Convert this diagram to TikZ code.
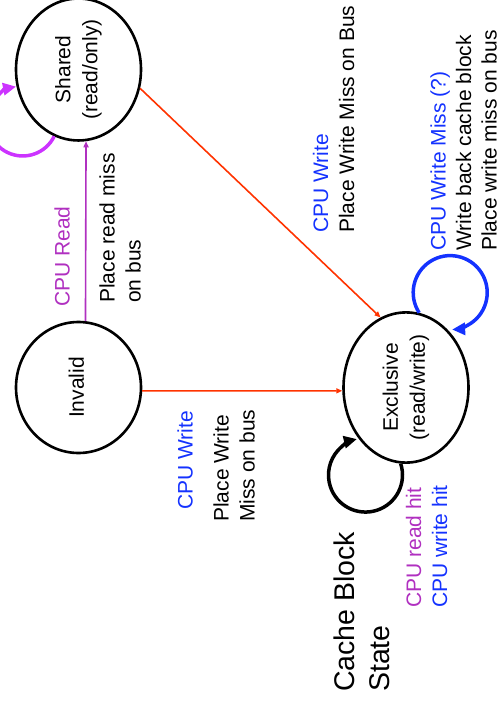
\documentclass[tikz,border=0pt]{standalone}
\usepackage{fontspec}
\setmainfont{Liberation Sans}
\usetikzlibrary{shapes.geometric,arrows.meta}
\definecolor{readpurple}{RGB}{176,48,192}
\definecolor{loopmagenta}{RGB}{204,51,255}
\definecolor{cpublue}{RGB}{20,50,255}
\definecolor{busred}{RGB}{255,51,0}
\newcommand{\vlines}[1]{\rotatebox{90}{\begin{tabular}{@{}c@{}}#1\end{tabular}}}

\begin{document}
\begin{tikzpicture}[x=1pt,y=1pt,
	state/.style={draw,ellipse,line width=2.6pt,minimum width=125pt,minimum height=131pt,inner sep=0pt,font=\fontsize{21}{27}\selectfont},
	lbl/.style={rotate=90,anchor=west,align=left,inner sep=0pt,font=\fontsize{21}{26}\selectfont},
	thin arrow/.style={line width=1.6pt,-{Triangle[length=6pt,width=5pt]}},
	loop arrow/.style={line width=3.5pt,-{Triangle[length=13pt,width=12pt]}}]
\useasboundingbox (0,0) rectangle (500,-706);
% states
\node[state] (sh) at (78.5,-69.5) {\vlines{Shared\\(read/only)}};
\node[state] (inv) at (78.5,-387.5) {\vlines{Invalid}};
\node[state] (exc) at (406,-387.5) {\vlines{Exclusive\\(read/write)}};
% transitions
\draw[thin arrow,readpurple] (inv.84) -- (sh.-84);
\draw[thin arrow,busred] (inv.-3) -- (exc.183);
\draw[thin arrow,busred] (sh.-17) -- (exc.110);
% self loops
\draw[loop arrow,loopmagenta] (sh.250) arc[start angle=-26,end angle=-259,radius=35];
\draw[loop arrow,cpublue] (exc.80) arc[start angle=213,end angle=-87,radius=37];
\draw[loop arrow] (exc.266) arc[start angle=18,end angle=-256.5,radius=37];
% labels
\node[lbl,readpurple] (cpuread) at (62,-307) {CPU Read};
\node[lbl] (readmiss) at (120,-303) {Place read miss\\on bus};
\node[lbl,cpublue] (cpuwrite) at (185,-510) {CPU Write};
\node[lbl] (writemiss) at (234,-522) {Place Write\\Miss on bus};
\node[lbl] (shwrite) at (333.5,-233) {\textcolor{cpublue}{CPU Write}\\Place Write Miss on Bus};
\node[lbl,font=\fontsize{21}{25.5}\selectfont] (exmiss) at (463.5,-251) {\textcolor{cpublue}{CPU Write Miss (?)}\\Write back cache block\\Place write miss on bus};
\node[lbl,font=\fontsize{28.5}{35}\selectfont] (legend) at (362,-692) {Cache Block\\State};
\node[lbl] (hits) at (426.5,-608) {\textcolor{readpurple}{CPU read hit}\\\textcolor{cpublue}{CPU write hit}};
\end{tikzpicture}
\end{document}
